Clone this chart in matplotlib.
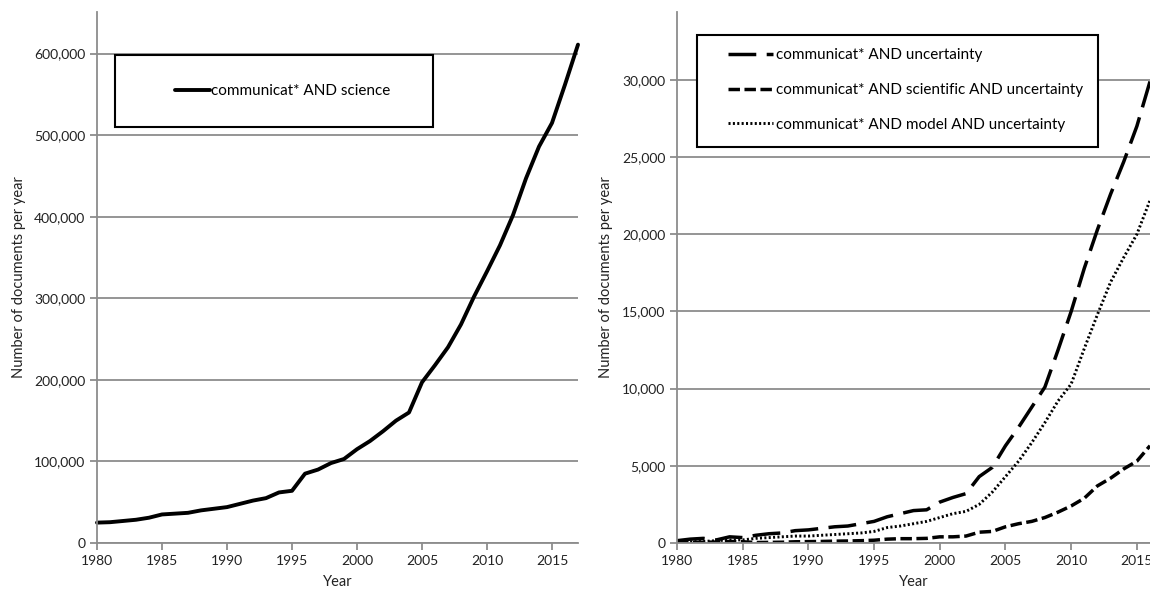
import matplotlib
matplotlib.use('Agg')
import matplotlib.pyplot as plt
from matplotlib.patches import Rectangle
from matplotlib.ticker import FuncFormatter

plt.rcParams['font.family'] = ['Lato', 'DejaVu Sans']

# data
years = list(range(1980, 2018))
science = [25000, 25500, 27000, 28500, 31000, 35000, 36000, 37000, 40000, 42000,
           44000, 48000, 52000, 55000, 62000, 64000, 85000, 90000, 98000, 103000,
           115000, 125000, 137000, 150000, 160000, 197000, 218000, 240000, 268000, 302000,
           333000, 365000, 402000, 447000, 486000, 515000, 562000, 611000]

years_r = list(range(1980, 2017))
uncert = [150, 250, 300, 200, 400, 350, 500, 600, 650, 800,
          850, 950, 1050, 1100, 1250, 1400, 1700, 1900, 2100, 2150,
          2650, 2950, 3200, 4300, 4900, 6300, 7500, 8800, 10100, 12500,
          15000, 17800, 20300, 22600, 24700, 27000, 29900]
sci_uncert = [100, 30, 50, 60, 100, 80, 30, 40, 50, 80,
              90, 100, 120, 130, 150, 180, 250, 280, 280, 300,
              400, 400, 450, 700, 750, 1050, 1250, 1400, 1650, 2000,
              2400, 2900, 3700, 4200, 4800, 5300, 6300]
model_uncert = [50, 80, 100, 150, 200, 200, 300, 350, 400, 450,
                450, 500, 550, 600, 650, 750, 1000, 1100, 1250, 1400,
                1650, 1900, 2050, 2500, 3300, 4300, 5300, 6500, 7800, 9200,
                10300, 12600, 14800, 16900, 18500, 20000, 22200]

grid_c = '#8c8c8c'
fmt = FuncFormatter(lambda v, p: '{:,.0f}'.format(v))

fig = plt.figure(figsize=(11.5, 5.93), dpi=100)
ax1 = fig.add_axes([97/1150, 50/593, 481/1150, 531/593])
ax2 = fig.add_axes([677/1150, 50/593, 473/1150, 531/593])


def style(ax, ymax, step, xmax):
    ax.set_xlim(1980, xmax)
    ax.set_ylim(0, ymax)
    ax.set_xticks(range(1980, 2020, 5))
    ax.set_yticks(range(0, int(ymax) + 1, step))
    ax.yaxis.set_major_formatter(fmt)
    for s in ['top', 'right']:
        ax.spines[s].set_visible(False)
    for s in ['left', 'bottom']:
        ax.spines[s].set_color(grid_c)
        ax.spines[s].set_linewidth(1.3)
    ax.yaxis.grid(True, color=grid_c, linewidth=1.3)
    ax.set_axisbelow(True)
    ax.tick_params(axis='both', colors=grid_c, labelcolor='#222222', labelsize=10, length=5, width=1.3)
    ax.set_xlabel('Year', fontsize=10.5, color='#222222', labelpad=6)
    ax.set_ylabel('Number of documents per year', fontsize=10.5, color='#222222', labelpad=6)


style(ax1, 651000, 100000, 2017)
style(ax2, 34400, 5000, 2016)

ax1.plot(years, science, color='black', linewidth=2.8, solid_capstyle='round',
         solid_joinstyle='round', label='communicat* AND science', clip_on=False)

ax2.plot(years_r, uncert, color='black', linewidth=2.5, dashes=(8, 3.0),
         label='communicat* AND uncertainty')
ax2.plot(years_r, sci_uncert, color='black', linewidth=2.5, dashes=(3.3, 1.3),
         label='communicat* AND scientific AND uncertainty')
ax2.plot(years_r, model_uncert, color='black', linewidth=2.1, dashes=(0.7, 0.8),
         label='communicat* AND model AND uncertainty')

# legend boxes
ax1.add_patch(Rectangle((18/481, (543-127)/531), (433-115)/481, 72/531, transform=ax1.transAxes,
                        facecolor='white', edgecolor='black', linewidth=1.5, zorder=3))
leg1 = ax1.legend(loc='center left', bbox_to_anchor=((167-97)/481, (543-91)/531), frameon=False,
                  fontsize=11, handlelength=2.3, handletextpad=0.1, borderpad=0)
leg1.set_zorder(4)

ax2.add_patch(Rectangle((20/473, (543-147)/531), (1098-697)/473, 112/531, transform=ax2.transAxes,
                        facecolor='white', edgecolor='black', linewidth=1.5, zorder=3))
leg2 = ax2.legend(loc='center left', bbox_to_anchor=((720-677)/473, (543-90)/531), frameon=False,
                  fontsize=11, handlelength=3.0, handletextpad=0.15, borderpad=0, labelspacing=1.35)
leg2.set_zorder(4)

fig.savefig('out.png', dpi=100)
